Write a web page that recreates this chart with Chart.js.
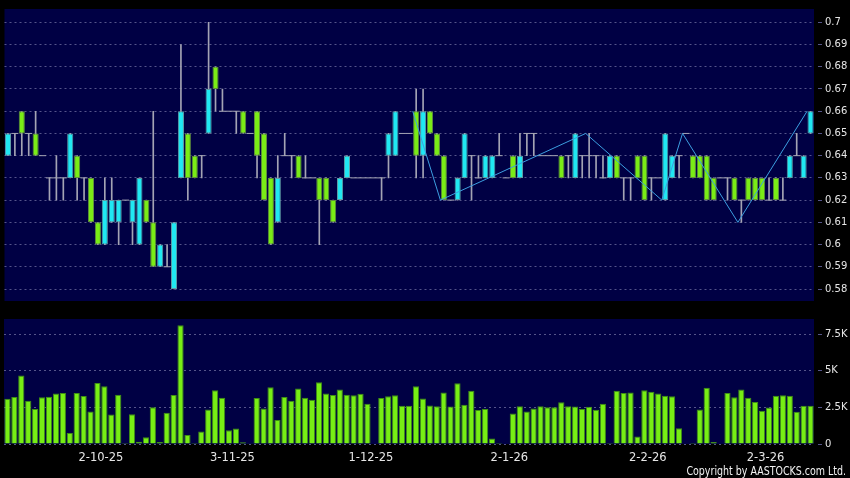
<!DOCTYPE html>
<html lang="en">
<head>
<meta charset="UTF-8">
<title>Price and volume</title>
<style>
    body {
        margin: 0;
        background: #000;
        width: 850px;
        height: 478px;
        overflow: hidden;
        position: relative;
        font-family: "DejaVu Sans", sans-serif;
    }
    #priceChart { position: absolute; left: 0; top: 0; }
    #volChart { position: absolute; left: 0; top: 310px; }
    #copy {
        position: absolute;
        right: 4px;
        top: 465px;
        color: #f2f2f2;
        font-size: 12px;
        line-height: 12px;
        white-space: nowrap;
        transform: scaleX(0.79);
        transform-origin: right center;
    }
</style>
</head>
<body>
<canvas id="priceChart" width="850" height="310"></canvas>
<canvas id="volChart" width="850" height="168"></canvas>
<div id="copy">Copyright by AASTOCKS.com Ltd.</div>

<script src="https://cdn.jsdelivr.net/npm/chart.js"></script>
<script>
// daily OHLC, one entry per trading day
const opens = [
    0.64,0.65,0.66,0.65,0.65,0.64,0.63,0.63,0.63,0.63,
    0.64,0.63,0.63,0.61,0.60,0.61,0.61,0.62,0.61,0.60,
    0.62,0.61,0.59,0.59,0.58,0.63,0.65,0.64,0.64,0.65,
    0.68,0.66,0.66,0.66,0.66,0.65,0.66,0.65,0.63,0.61,
    0.64,0.64,0.64,0.63,0.63,0.63,0.63,0.62,0.62,0.63,
    0.63,0.63,0.63,0.63,0.63,0.64,0.64,0.65,0.65,0.66,
    0.64,0.66,0.65,0.64,0.62,0.62,0.63,0.64,0.63,0.63,
    0.63,0.64,0.63,0.64,0.63,0.65,0.65,0.64,0.64,0.64,
    0.64,0.64,0.63,0.64,0.64,0.64,0.63,0.63,0.64,0.63,
    0.63,0.64,0.64,0.63,0.63,0.62,0.63,0.64,0.65,0.64,
    0.64,0.64,0.63,0.63,0.63,0.63,0.62,0.63,0.63,0.63,
    0.62,0.63,0.62,0.63,0.64,0.63,0.65
];
const highs = [
    0.65,0.65,0.66,0.65,0.66,0.64,0.63,0.64,0.63,0.65,
    0.64,0.63,0.63,0.61,0.63,0.63,0.62,0.62,0.62,0.63,
    0.62,0.66,0.60,0.60,0.61,0.69,0.65,0.64,0.64,0.70,
    0.68,0.67,0.66,0.66,0.66,0.65,0.66,0.65,0.63,0.64,
    0.65,0.64,0.64,0.64,0.63,0.63,0.63,0.62,0.63,0.64,
    0.63,0.63,0.63,0.63,0.63,0.65,0.66,0.65,0.65,0.67,
    0.67,0.66,0.65,0.64,0.62,0.63,0.65,0.64,0.64,0.64,
    0.64,0.65,0.63,0.64,0.65,0.65,0.65,0.64,0.64,0.64,
    0.64,0.64,0.65,0.64,0.65,0.64,0.64,0.64,0.64,0.63,
    0.63,0.64,0.64,0.63,0.63,0.65,0.64,0.64,0.65,0.64,
    0.64,0.64,0.63,0.63,0.63,0.63,0.62,0.63,0.63,0.63,
    0.63,0.63,0.63,0.64,0.65,0.64,0.66
];
const lows = [
    0.64,0.64,0.64,0.64,0.64,0.64,0.62,0.62,0.62,0.63,
    0.62,0.62,0.61,0.60,0.60,0.61,0.60,0.62,0.60,0.60,
    0.61,0.59,0.59,0.59,0.58,0.63,0.62,0.63,0.63,0.65,
    0.66,0.66,0.66,0.65,0.65,0.65,0.63,0.62,0.60,0.61,
    0.64,0.63,0.63,0.63,0.63,0.60,0.62,0.61,0.62,0.63,
    0.63,0.63,0.63,0.63,0.62,0.63,0.64,0.65,0.65,0.63,
    0.63,0.65,0.64,0.62,0.62,0.62,0.63,0.62,0.63,0.63,
    0.63,0.64,0.63,0.63,0.63,0.64,0.64,0.64,0.64,0.64,
    0.63,0.63,0.63,0.63,0.63,0.63,0.63,0.63,0.63,0.62,
    0.62,0.63,0.62,0.62,0.63,0.62,0.63,0.63,0.65,0.63,
    0.63,0.62,0.62,0.63,0.62,0.62,0.61,0.62,0.62,0.62,
    0.62,0.62,0.62,0.63,0.64,0.63,0.65
];
const closes = [
    0.65,0.65,0.65,0.65,0.64,0.64,0.63,0.63,0.63,0.65,
    0.63,0.63,0.61,0.60,0.62,0.62,0.62,0.62,0.62,0.63,
    0.61,0.59,0.60,0.59,0.61,0.66,0.63,0.63,0.64,0.67,
    0.67,0.66,0.66,0.66,0.65,0.65,0.64,0.62,0.60,0.63,
    0.64,0.64,0.63,0.63,0.63,0.62,0.62,0.61,0.63,0.64,
    0.63,0.63,0.63,0.63,0.63,0.65,0.66,0.65,0.65,0.64,
    0.66,0.65,0.64,0.62,0.62,0.63,0.65,0.64,0.63,0.64,
    0.64,0.64,0.63,0.63,0.64,0.65,0.65,0.64,0.64,0.64,
    0.63,0.64,0.65,0.64,0.64,0.64,0.63,0.64,0.63,0.63,
    0.63,0.63,0.62,0.63,0.63,0.65,0.64,0.64,0.65,0.63,
    0.63,0.62,0.62,0.63,0.63,0.62,0.62,0.62,0.62,0.62,
    0.62,0.62,0.62,0.64,0.64,0.64,0.66
];
const volumes = [
    3100,3210,4680,2960,2390,3190,3240,3460,3490,760,
    3490,3280,2230,4180,3950,2020,3370,70,2040,160,
    460,2520,140,2130,3350,8120,620,70,850,2360,
    3670,3170,940,1060,120,20,3140,2430,3880,1650,
    3210,2960,3790,3170,3030,4220,3460,3350,3720,3370,
    3330,3440,2750,0,3140,3260,3330,2620,2620,3950,
    3120,2640,2590,3530,2570,4150,2680,3650,2320,2390,
    370,70,0,2090,2590,2230,2430,2590,2520,2520,
    2850,2590,2570,2390,2550,2340,2750,70,3650,3490,
    3530,510,3670,3580,3460,3300,3260,1080,0,70,
    2360,3850,140,0,3490,3190,3720,3170,2870,2270,
    2500,3300,3330,3300,2200,2620,2620
];

// date labels shown under the volume panel and the day they belong to
const tickIdx = [14, 33, 53, 73, 93, 110];
const tickLabels = ['2-10-25', '3-11-25', '1-12-25', '2-1-26', '2-2-26', '2-3-26'];
const priceTicks = [0.58, 0.59, 0.60, 0.61, 0.62, 0.63, 0.64, 0.65, 0.66, 0.67, 0.68, 0.69, 0.70];
const volTicks = [0, 2500, 5000, 7500];

// swing line (zigzag) turning points
const zigIdx = [59, 63, 84, 95, 98, 106, 116];
const zigPrice = [0.66, 0.62, 0.65, 0.62, 0.65, 0.61, 0.66];

const categories = opens.map((_, i) => i);

const NAVY = '#000044';
const GRID = '#55558a';
const TXT = '#e6e6e6';
const UP = '#20e8f2', UP_EDGE = '#5f9ea6';
const DOWN = '#7aec16', DOWN_EDGE = '#5f8f3c';
const WICK = '#a4a4b4';
const ZIG = '#3c9ee0';

Chart.defaults.font.family = '"DejaVu Sans", sans-serif';

// paint the plot area navy, the rest of the canvas stays black
const plotBg = {
    id: 'plotBg',
    beforeDraw(chart) {
        const a = chart.chartArea;
        const ctx = chart.ctx;
        ctx.save();
        ctx.fillStyle = NAVY;
        ctx.fillRect(a.left, a.top, a.right - a.left, a.bottom - a.top);
        ctx.restore();
    }
};

function dateAxis(showLabels) {
    return {
        type: 'category',
        offset: true,
        grid: {
            offset: true,
            color: c => (c.index !== undefined && tickIdx.includes(c.index)) ? GRID : 'transparent',
            drawTicks: showLabels,
            tickLength: 5
        },
        border: { display: false, dash: [2, 3] },
        ticks: {
            display: showLabels,
            autoSkip: false,
            maxRotation: 0,
            labelOffset: -3.5,
            padding: 2,
            color: TXT,
            font: { size: 11.5 },
            callback: (v, i) => {
                const k = tickIdx.indexOf(i);
                return k >= 0 ? tickLabels[k] : null;
            }
        },
        afterFit: s => { s.height = showLabels ? 34 : 0; }
    };
}

function valueAxis(min, max, ticks, fmt) {
    return {
        position: 'right',
        min: min,
        max: max,
        afterBuildTicks: s => { s.ticks = ticks.map(v => ({ value: v })); },
        afterFit: s => { s.width = 36; },
        grid: {
            color: GRID,
            tickLength: 8,
            tickColor: GRID,
            tickBorderDash: [4, 4],
            tickBorderDashOffset: 4
        },
        border: { display: false, dash: [2, 3] },
        ticks: { padding: 3, color: TXT, font: { size: 10 }, callback: fmt }
    };
}

// candle pieces built from the OHLC arrays
const wickData = lows.map((l, i) => highs[i] > l ? [l, highs[i]] : null);
const bodyData = opens.map((o, i) => o !== closes[i] ? [o, closes[i]] : null);
const dojiData = opens.map((o, i) => o === closes[i] ? o : null);
const zigData = zigIdx.map((x, k) => ({ x: x, y: zigPrice[k] }));

new Chart(document.getElementById('priceChart'), {
    type: 'bar',
    data: {
        labels: categories,
        datasets: [
            {
                type: 'line',
                xAxisID: 'xz',
                data: zigData,
                borderColor: ZIG,
                borderWidth: 1,
                pointRadius: 0,
                tension: 0,
                fill: false,
                order: 0
            },
            {
                type: 'line',
                data: dojiData,
                showLine: false,
                pointStyle: 'line',
                pointRadius: 3.5,
                pointHoverRadius: 3.5,
                pointBorderColor: WICK,
                pointBorderWidth: 1,
                order: 1
            },
            {
                data: bodyData,
                grouped: false,
                barPercentage: 0.88,
                categoryPercentage: 1,
                borderWidth: 1,
                borderSkipped: false,
                backgroundColor: c => closes[c.dataIndex] > opens[c.dataIndex] ? UP : DOWN,
                borderColor: c => closes[c.dataIndex] > opens[c.dataIndex] ? UP_EDGE : DOWN_EDGE,
                order: 2
            },
            {
                data: wickData,
                grouped: false,
                barThickness: 1,
                borderWidth: 0,
                backgroundColor: WICK,
                order: 3
            }
        ]
    },
    options: {
        responsive: false,
        animation: false,
        layout: { padding: { left: 4, top: 5, right: 0, bottom: 5 } },
        plugins: { legend: { display: false }, tooltip: { enabled: false } },
        scales: {
            x: dateAxis(false),
            // day edges: index i sits on the left edge of that day's slot
            xz: {
                type: 'linear',
                display: false,
                offset: false,
                grid: { offset: false },
                min: 0,
                max: categories.length
            },
            y: valueAxis(0.5746, 0.706, priceTicks, v => String(+v.toFixed(2)))
        }
    },
    plugins: [plotBg]
});

new Chart(document.getElementById('volChart'), {
    type: 'bar',
    data: {
        labels: categories,
        datasets: [{
            data: volumes,
            barPercentage: 0.9,
            categoryPercentage: 1,
            backgroundColor: '#77ee14',
            borderColor: '#3f8f14',
            borderWidth: 1
        }]
    },
    options: {
        responsive: false,
        animation: false,
        layout: { padding: { left: 4, top: 9, right: 0, bottom: 0 } },
        plugins: { legend: { display: false }, tooltip: { enabled: false } },
        scales: {
            x: dateAxis(true),
            y: valueAxis(0, 8550, volTicks, v => v === 0 ? '0' : (v / 1000) + 'K')
        }
    },
    plugins: [plotBg]
});
</script>
</body>
</html>
